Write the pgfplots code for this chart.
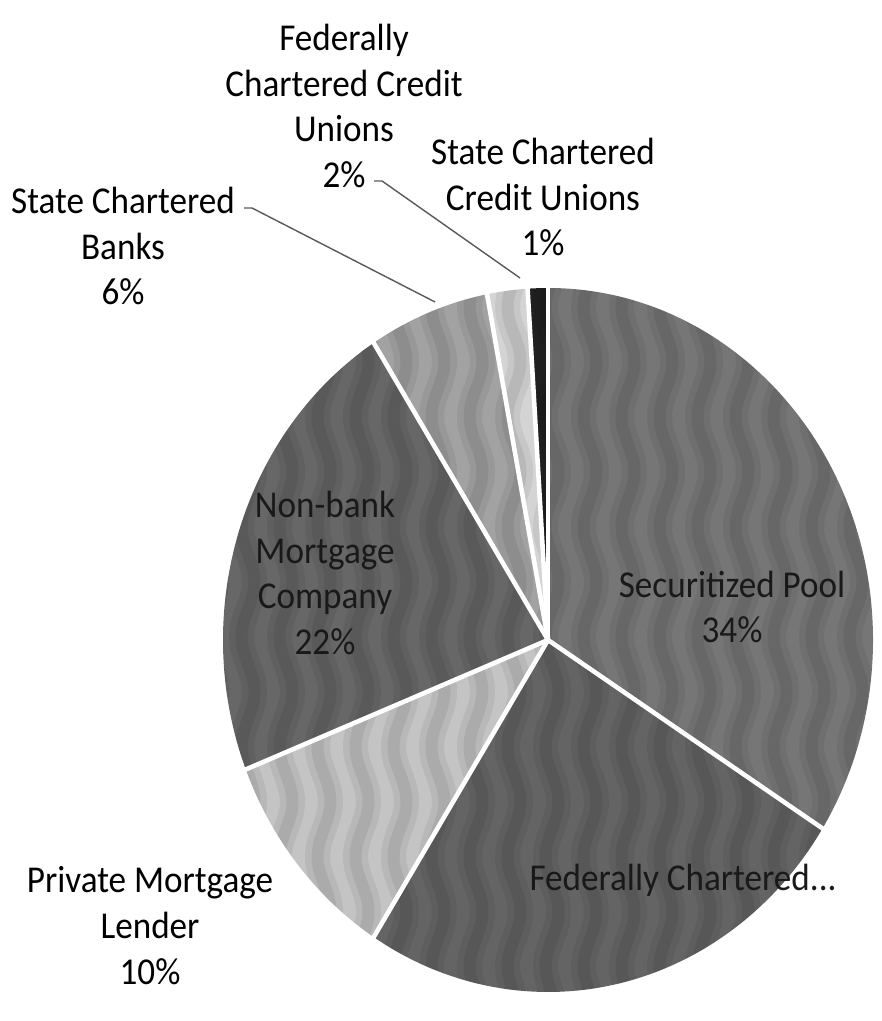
\documentclass[border=0pt]{standalone}
\usepackage{pgfplots}
\pgfplotsset{compat=1.18}
\usetikzlibrary{decorations.pathmorphing}
\usepackage{fontspec}
\setmainfont{Carlito}
\definecolor{cSec}{HTML}{767676}
\definecolor{cFed}{HTML}{646464}
\definecolor{cPriv}{HTML}{C4C4C4}
\definecolor{cNon}{HTML}{676767}
\definecolor{cSB}{HTML}{A2A2A2}
\definecolor{cFCU}{HTML}{D4D4D4}
\definecolor{cSCU}{HTML}{202020}
% values (percent), clockwise from 12 o'clock
\def\vSec{34}\def\vFed{25}\def\vPriv{10}\def\vNon{22}\def\vSB{6}\def\vFCU{2}\def\vSCU{1}
\newcommand{\slice}[3]{% color, start angle, end angle
  \fill[#1]
    (axis cs:548,381) -- ++({6.5cm*cos(#2)},{7.04cm*sin(#2)})
    arc[start angle=#2, end angle=#3, x radius=6.5cm, y radius=7.04cm] -- cycle;}
\newcommand{\sep}[1]{%
  \draw[white, line width=2.6pt] (axis cs:548,381) -- ++({6.6cm*cos(#1)},{7.14cm*sin(#1)});}
\tikzset{lbl/.style={font=\fontsize{20pt}{24.2pt}\selectfont, align=center, yscale=1.08, inner sep=0pt},
  wave/.style={black, decorate, decoration={snake, segment length=2.2cm, amplitude=0.13cm}}}
\begin{document}
\begin{tikzpicture}
\begin{axis}[
  width=17.62cm, height=20.42cm, scale only axis,
  xmin=0, xmax=881, ymin=0, ymax=1021,
  hide axis, clip=false,
]
\coordinate (LL) at (axis cs:0,0);
\coordinate (UR) at (axis cs:881,1021);
\slice{cSec}{90}{90-3.6*\vSec}
\slice{cFed}{90-3.6*\vSec}{90-3.6*(\vSec+\vFed)}
\slice{cPriv}{90-3.6*(\vSec+\vFed)}{90-3.6*(\vSec+\vFed+\vPriv)}
\slice{cNon}{90-3.6*(\vSec+\vFed+\vPriv)}{90-3.6*(\vSec+\vFed+\vPriv+\vNon)}
\slice{cSB}{90-3.6*(\vSec+\vFed+\vPriv+\vNon)}{90-3.6*(\vSec+\vFed+\vPriv+\vNon+\vSB)}
\slice{cFCU}{90-3.6*(\vSec+\vFed+\vPriv+\vNon+\vSB)}{90-3.6*(\vSec+\vFed+\vPriv+\vNon+\vSB+\vFCU)}
\slice{cSCU}{90-3.6*(\vSec+\vFed+\vPriv+\vNon+\vSB+\vFCU)}{90-3.6*100}
% soft wavy scan texture
\begin{scope}
\clip (axis cs:548,381) ++(6.5cm,0) arc[start angle=0, end angle=360, x radius=6.5cm, y radius=7.04cm] -- cycle;
\pgfplotsinvokeforeach{0,...,18}{
  \draw[wave, opacity=0.06, line width=0.5cm] (axis cs:{210+38*#1},20) -- (axis cs:{210+38*#1},760);
  \draw[wave, opacity=0.07, line width=0.24cm] (axis cs:{210+38*#1},20) -- (axis cs:{210+38*#1},760);
}
\end{scope}
% white separators
\sep{90}
\sep{90-3.6*\vSec}
\sep{90-3.6*(\vSec+\vFed)}
\sep{90-3.6*(\vSec+\vFed+\vPriv)}
\sep{90-3.6*(\vSec+\vFed+\vPriv+\vNon)}
\sep{90-3.6*(\vSec+\vFed+\vPriv+\vNon+\vSB)}
\sep{90-3.6*(\vSec+\vFed+\vPriv+\vNon+\vSB+\vFCU)}
% leader lines
\draw[gray!70!black, line width=0.8pt] (axis cs:244,813) -- (axis cs:252,813) -- (axis cs:435,719);
\draw[gray!70!black, line width=0.8pt] (axis cs:374,840) -- (axis cs:382,840) -- (axis cs:520,743);
% labels
\node[lbl, text=black!90] at (axis cs:732,414) {Securitized Pool\\\vSec\%};
\node[lbl, text=black!90] at (axis cs:683,141) {Federally Chartered...};
\node[lbl] at (axis cs:150,95) {Private Mortgage\\Lender\\\vPriv\%};
\node[lbl, text=black!90] at (axis cs:325,448) {Non-bank\\Mortgage\\Company\\\vNon\%};
\node[lbl] at (axis cs:123,775) {State Chartered\\Banks\\\vSB\%};
\node[lbl] at (axis cs:344,915) {Federally\\Chartered Credit\\Unions\\\vFCU\%};
\node[lbl] at (axis cs:543,824) {State Chartered\\Credit Unions\\\vSCU\%};
\end{axis}
\pgfresetboundingbox
\useasboundingbox (LL) rectangle (UR);
\end{tikzpicture}
\end{document}
